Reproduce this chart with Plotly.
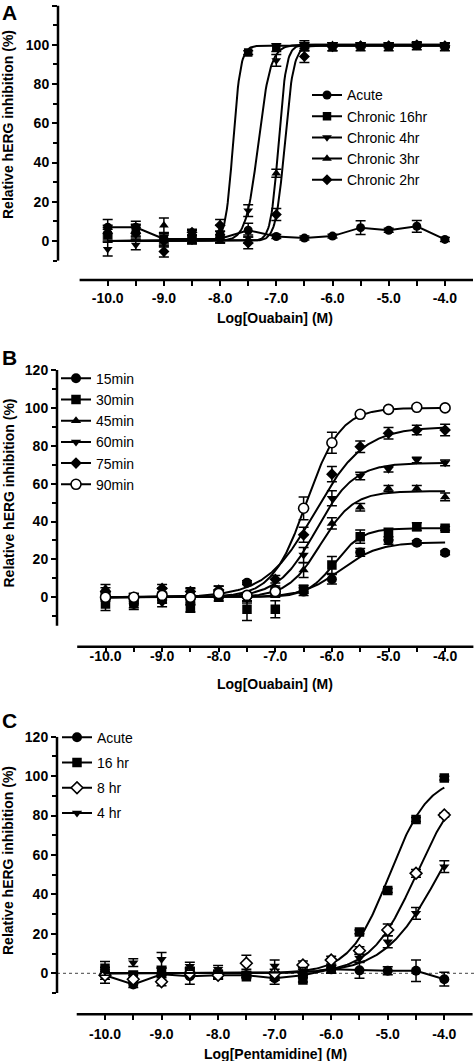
import numpy as np
import plotly.graph_objects as go

# ---------------- data ----------------
LOG_CONC = [-10.0, -9.5, -9.0, -8.5, -8.0, -7.5, -7.0, -6.5, -6.0, -5.5, -5.0, -4.5, -4.0]

X_TICKS = [-10.0, -9.5, -9.0, -8.5, -8.0, -7.5, -7.0, -6.5, -6.0, -5.5, -5.0, -4.5, -4.0]
X_TICKTEXT = ["-10.0", "", "-9.0", "", "-8.0", "", "-7.0", "", "-6.0", "", "-5.0", "", "-4.0"]
Y_TICKS = [0, 20, 40, 60, 80, 100, 120]
Y_TICKTEXT = ["0", "20", "40", "60", "80", "100", "120"]
Y_MINOR = [-10, 10, 30, 50, 70, 90, 110]

# Panel A (Ouabain, chronic)
A_NAMES = ["Acute", "Chronic 16hr", "Chronic 4hr", "Chronic 3hr", "Chronic 2hr"]
A_ACUTE = [7.0, 7.0, 1.0, 1.0, 1.2, 5.5, 2.3, 1.5, 2.5, 6.8, 5.5, 7.5, 0.8]
A_ACUTE_ERR = [4.0, 3.0, 3.0, 2.0, 2.0, 3.5, 1.0, 1.0, 1.0, 3.5, 1.0, 3.0, 1.0]
A_16HR = [3.0, 5.0, 1.0, 0.5, 2.0, 96.0, 98.5, 99.0, 99.0, 99.0, 99.0, 99.5, 99.0]
A_16HR_ERR = [3.0, 3.0, 2.0, 2.0, 3.0, 1.0, 2.0, 2.0, 2.0, 2.0, 2.0, 2.0, 2.0]
A_4HR = [-4.2, -2.0, -1.0, 0.0, 1.0, 15.5, 92.0, 100.0, 100.0, 100.0, 100.0, 100.0, 100.0]
A_4HR_ERR = [3.5, 2.5, 2.0, 1.0, 2.0, 3.0, 3.0, 2.0, 1.0, 1.0, 1.0, 1.0, 1.0]
A_3HR = [5.0, 5.5, 8.0, 3.5, 5.0, 1.0, 34.5, 100.0, 100.0, 100.0, 100.0, 100.0, 100.0]
A_3HR_ERR = [3.0, 3.0, 3.7, 2.0, 3.0, 2.0, 2.0, 1.0, 1.0, 1.0, 1.0, 1.0, 1.0]
A_2HR = [4.0, 4.0, -5.4, 4.5, 8.0, -1.0, 13.5, 94.0, 99.0, 99.5, 99.5, 100.0, 99.5]
A_2HR_ERR = [3.0, 3.0, 2.8, 1.5, 3.0, 3.0, 3.0, 3.0, 2.0, 1.0, 1.0, 1.0, 1.0]
# sigmoid fit parameters (chronic 16hr, 4hr, 3hr, 2hr)
A_FIT_LOGIC50 = [-7.77, -7.32, -6.96, -6.85]
A_FIT_HILL = [6.5, 4.0, 6.3, 5.5]
A_FIT_TOP = [99.5, 100.0, 100.0, 99.5]

# Panel B (Ouabain, time course)
B_NAMES = ["15min", "30min", "45min", "60min", "75min", "90min"]
B_15 = [1.0, -3.5, 0.5, -2.0, 1.5, 7.7, 4.0, 3.0, 9.5, 23.7, 30.0, 28.8, 23.5]
B_15_ERR = [2.0, 3.0, 2.0, 2.0, 2.0, 1.0, 2.0, 2.0, 2.5, 2.0, 2.0, 1.0, 1.0]
B_30 = [-3.5, -2.5, -1.0, -5.8, 0.0, -6.3, -6.3, 4.2, 17.0, 32.0, 33.4, 37.3, 36.4]
B_30_ERR = [3.5, 3.0, 2.0, 2.0, 2.0, 6.0, 4.5, 2.0, 4.5, 3.5, 3.0, 2.0, 1.0]
B_45 = [4.7, 0.0, 3.0, 2.5, 4.0, -1.0, 3.0, 14.4, 39.0, 47.5, 57.5, 57.5, 53.0]
B_45_ERR = [2.0, 2.0, 2.0, 2.0, 2.0, 2.0, 2.0, 4.0, 3.0, 2.0, 1.5, 1.5, 2.0]
B_60 = [0.0, -1.0, -3.0, -1.0, 2.0, 0.0, 2.0, 22.3, 52.3, 64.0, 67.6, 72.5, 71.0]
B_60_ERR = [2.0, 2.0, 2.0, 2.0, 2.0, 2.0, 2.0, 4.0, 4.0, 2.0, 1.5, 1.5, 1.5]
B_75 = [3.0, 0.0, 4.7, 3.0, 3.8, 0.0, 9.5, 33.0, 65.0, 79.5, 86.6, 88.3, 88.3]
B_75_ERR = [2.0, 2.0, 2.0, 2.0, 2.0, 2.0, 2.0, 4.0, 4.0, 3.0, 3.0, 2.5, 3.0]
B_90 = [0.0, 0.0, 1.0, 0.0, 2.0, 1.0, 3.0, 47.0, 81.6, 96.6, 99.2, 100.3, 100.0]
B_90_ERR = [1.0, 1.0, 1.0, 1.0, 1.0, 1.0, 1.0, 6.0, 5.5, 1.0, 1.0, 1.0, 1.0]
B_FIT_LOGIC50 = [-5.85, -5.95, -6.20, -6.28, -6.30, -6.45]
B_FIT_HILL = [1.3, 1.8, 1.5, 1.3, 1.0, 1.44]
B_FIT_TOP = [29.0, 36.5, 56.0, 71.0, 90.0, 100.0]

# Panel C (Pentamidine)
C_NAMES = ["Acute", "16 hr", "8 hr", "4 hr"]
C_ACUTE = [-1.0, -5.7, -0.5, -1.5, -1.0, -1.0, -2.5, -1.0, 2.0, 1.5, 1.3, 1.3, -3.0]
C_ACUTE_ERR = [4.0, 1.5, 3.0, 4.0, 2.0, 1.0, 3.0, 1.0, 2.0, 4.0, 2.0, 5.5, 3.5]
C_16HR = [2.5, -1.0, 0.8, 1.0, -0.5, -1.7, -1.5, -3.4, 2.0, 21.0, 42.0, 78.0, 99.0]
C_16HR_ERR = [3.5, 2.0, 2.0, 2.0, 2.0, 1.0, 2.0, 1.0, 2.0, 1.0, 1.0, 1.0, 1.0]
C_8HR = [-1.0, -3.0, -4.3, 0.0, -1.0, 5.1, 0.0, 4.2, 6.7, 11.5, 22.0, 50.7, 80.3]
C_8HR_ERR = [2.0, 2.0, 2.0, 2.0, 2.0, 4.0, 2.0, 2.0, 2.0, 2.0, 3.0, 2.0, 1.0]
C_4HR = [1.0, 5.4, 7.1, 3.6, 2.0, 0.0, 3.7, 1.0, 2.0, 7.6, 16.0, 30.4, 54.1]
C_4HR_ERR = [2.0, 2.0, 3.5, 2.0, 2.0, 2.0, 3.0, 2.0, 2.0, 2.0, 3.0, 3.0, 3.0]
C_FIT_LOGIC50 = [-4.97, -4.50, -4.10]
C_FIT_HILL = [1.25, 1.1, 0.9]
C_FIT_TOP = [100.0, 100.0, 100.0]

# ---------------- helpers ----------------
FONT = "Liberation Sans, Arial, sans-serif"
W, H = 474, 1061
XFIT = np.linspace(-10.0, -4.0, 400)


def hill(x, logic50, h, top, bottom=0.0):
    return bottom + (top - bottom) / (1.0 + 10.0 ** ((logic50 - x) * h))


def marker(symbol, size, open_=False):
    if open_:
        return dict(symbol=symbol, size=size, color="white", line=dict(color="black", width=1.6))
    return dict(symbol=symbol, size=size, color="black", line=dict(color="black", width=0))


fig = go.Figure()


def add_series(xa, ya, y, err, name, mk, legend, fit=None, connect=False, group=None):
    if fit is not None:
        fig.add_trace(go.Scatter(x=XFIT, y=hill(XFIT, *fit), mode="lines",
                                 line=dict(color="black", width=2), xaxis=xa, yaxis=ya,
                                 showlegend=False, hoverinfo="skip"))
    fig.add_trace(go.Scatter(x=LOG_CONC, y=y, mode="lines+markers" if connect else "markers",
                             line=dict(color="black", width=2), marker=mk,
                             error_y=dict(type="data", array=err, visible=True, color="black",
                                          thickness=1.5, width=5),
                             xaxis=xa, yaxis=ya, showlegend=False, name=name))
    fig.add_trace(go.Scatter(x=[None], y=[None], mode="lines+markers", name=name,
                             line=dict(color="black", width=2), marker=mk,
                             xaxis=xa, yaxis=ya, legend=legend, showlegend=True,
                             legendgroup=group))


# Panel A
A_SYMS = [("circle", 9), ("square", 8.5), ("triangle-down", 8.5), ("triangle-up", 8.5), ("diamond", 8.5)]
A_DATA = [(A_ACUTE, A_ACUTE_ERR), (A_16HR, A_16HR_ERR), (A_4HR, A_4HR_ERR), (A_3HR, A_3HR_ERR), (A_2HR, A_2HR_ERR)]
for i, name in enumerate(A_NAMES):
    y, e = A_DATA[i]
    fit = None if i == 0 else (A_FIT_LOGIC50[i - 1], A_FIT_HILL[i - 1], A_FIT_TOP[i - 1])
    add_series("x", "y", y, e, name, marker(*A_SYMS[i]), "legend", fit=fit, connect=(i == 0))

# Panel B
B_SYMS = [("circle", 10, False), ("square", 9.5, False), ("triangle-up", 9, False),
          ("triangle-down", 9, False), ("diamond", 9, False), ("circle", 10, True)]
B_DATA = [(B_15, B_15_ERR), (B_30, B_30_ERR), (B_45, B_45_ERR), (B_60, B_60_ERR), (B_75, B_75_ERR), (B_90, B_90_ERR)]
for i, name in enumerate(B_NAMES):
    y, e = B_DATA[i]
    s, sz, op = B_SYMS[i]
    add_series("x2", "y2", y, e, name, marker(s, sz, op), "legend2",
               fit=(B_FIT_LOGIC50[i], B_FIT_HILL[i], B_FIT_TOP[i]))

# Panel C
C_SYMS = [("circle", 10, False), ("square", 9.5, False), ("diamond", 9, True), ("triangle-down", 9, False)]
C_DATA = [(C_ACUTE, C_ACUTE_ERR), (C_16HR, C_16HR_ERR), (C_8HR, C_8HR_ERR), (C_4HR, C_4HR_ERR)]
for i, name in enumerate(C_NAMES):
    y, e = C_DATA[i]
    s, sz, op = C_SYMS[i]
    fit = None if i == 0 else (C_FIT_LOGIC50[i - 1], C_FIT_HILL[i - 1], C_FIT_TOP[i - 1])
    add_series("x3", "y3", y, e, name, marker(s, sz, op), "legend3", fit=fit,
               connect=(i == 0), group="g%d" % i)

# ---------------- layout ----------------
tickfont = dict(family=FONT, size=14, color="black", weight="bold")


def xaxis(axpx, px_m10, ppu, anchor, ticklen, standoff):
    xmin = -10.0 - (px_m10 - axpx) / ppu
    xmax = -10.0 + (W - px_m10) / ppu
    return dict(domain=[axpx / W, 1.0], range=[xmin, xmax], anchor=anchor,
                showgrid=False, zeroline=False, showline=False,
                ticks="outside", ticklen=ticklen, tickwidth=2, tickcolor="black",
                tickmode="array", tickvals=X_TICKS, ticktext=X_TICKTEXT,
                tickfont=tickfont, ticklabelstandoff=standoff, fixedrange=True)


def yaxis(top_px, zero_px, bottom_px, anchor):
    ppu = (zero_px - top_px) / 120.0
    ymin = -(bottom_px - zero_px) / ppu
    return dict(domain=[1 - bottom_px / H, 1 - top_px / H], range=[ymin, 120], anchor=anchor,
                showgrid=False, zeroline=False, showline=False,
                ticks="outside", ticklen=5, tickwidth=2, tickcolor="black",
                tickmode="array", tickvals=Y_TICKS, ticktext=Y_TICKTEXT,
                minor=dict(tickmode="array", tickvals=Y_MINOR, ticks="outside", ticklen=4,
                           tickwidth=2, tickcolor="black", showgrid=False),
                tickfont=tickfont, fixedrange=True)


fig.update_layout(
    width=W, height=H, margin=dict(l=0, r=0, t=0, b=0, autoexpand=False),
    paper_bgcolor="white", plot_bgcolor="white",
    xaxis=xaxis(58, 107.7, 56.2, "y", 5, 0),
    yaxis=yaxis(5.5, 241.0, 280.0, "x"),
    xaxis2=xaxis(57, 105.5, 56.6, "y2", 4, -8),
    yaxis2=yaxis(370.0, 597.3, 646.7, "x2"),
    xaxis3=xaxis(57, 105.0, 56.55, "y3", 5, 2),
    yaxis3=yaxis(736.7, 973.3, 1014.3, "x3"),
    legend=dict(x=307 / W, y=1 - 79.4 / H, xanchor="left", yanchor="top",
                font=dict(family=FONT, size=14, color="black"), bgcolor="rgba(0,0,0,0)",
                borderwidth=0, itemwidth=30),
    legend2=dict(x=56 / W, y=1 - 362.7 / H, xanchor="left", yanchor="top",
                 font=dict(family=FONT, size=14, color="black"), bgcolor="rgba(0,0,0,0)",
                 borderwidth=0, itemwidth=30),
    legend3=dict(x=57 / W, y=1 - 721.7 / H, xanchor="left", yanchor="top",
                 font=dict(family=FONT, size=14, color="black"), bgcolor="rgba(0,0,0,0)",
                 borderwidth=0, itemwidth=30, tracegroupgap=4),
)

shapes = []
for xa, ya, ybot in [("x", "y", -10), ("x2", "y2", -15), ("x3", "y3", -10)]:
    shapes.append(dict(type="line", xref=xa + " domain", yref=ya, x0=0, x1=0, y0=ybot, y1=120,
                       line=dict(color="black", width=2.5), layer="above"))
    shapes.append(dict(type="line", xref=xa, yref=ya + " domain", x0=-10.5, x1=-3.5, y0=0, y1=0,
                       line=dict(color="black", width=2.5), layer="above"))
shapes.append(dict(type="line", xref="x3 domain", yref="y3", x0=0, x1=1, y0=0, y1=0,
                   line=dict(color="#444444", width=1, dash="dot"), layer="below"))
fig.update_layout(shapes=shapes)

ann = []
for cy in [125.0, 493.5, 861.0]:
    ann.append(dict(text="Relative hERG inhibition (%)", xref="paper", yref="paper",
                    x=8 / W, y=1 - cy / H, xanchor="center", yanchor="middle", textangle=-90,
                    showarrow=False, font=dict(family=FONT, size=14, color="black", weight="bold")))
for cy, t in [(318.0, "Log[Ouabain] (M)"), (684.0, "Log[Ouabain] (M)"), (1054.0, "Log[Pentamidine] (M)")]:
    ann.append(dict(text=t, xref="paper", yref="paper", x=275 / W, y=1 - cy / H,
                    xanchor="center", yanchor="middle", showarrow=False,
                    font=dict(family=FONT, size=14, color="black", weight="bold")))
for cy, t in [(12.5, "A"), (357.0, "B"), (720.0, "C")]:
    ann.append(dict(text=t, xref="paper", yref="paper", x=9.5 / W, y=1 - cy / H,
                    xanchor="center", yanchor="middle", showarrow=False,
                    font=dict(family=FONT, size=21, color="black", weight="bold")))
fig.update_layout(annotations=ann)

fig.write_html("out.html", config={"displayModeBar": False},
               post_script="document.body.style.margin='0';document.body.style.overflow='hidden';")
